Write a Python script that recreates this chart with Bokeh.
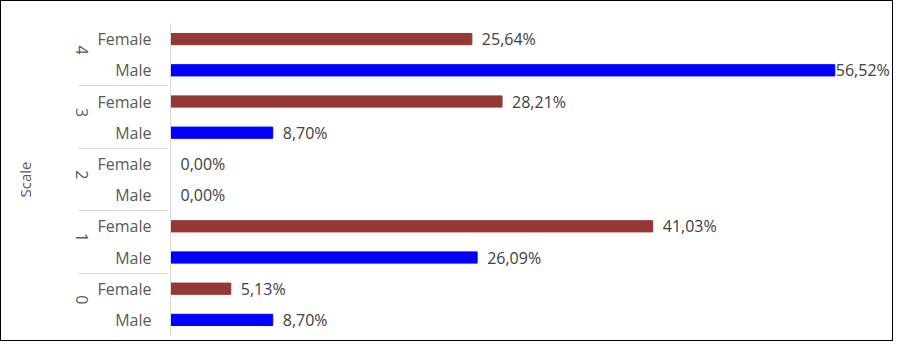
import math
from bokeh.plotting import figure
from bokeh.models import FactorRange, ColumnDataSource, Range1d, BoxAnnotation
from bokeh.core.properties import value
from bokeh.embed import file_html
from bokeh.resources import INLINE

groups = ["0", "1", "2", "3", "4"]
subs = ["Male", "Female"]
male = [8.70, 26.09, 0.00, 8.70, 56.52]
female = [5.13, 41.03, 0.00, 28.21, 25.64]
colors = {"Male": "#0000FF", "Female": "#953735"}

factors = [(g, s) for g in groups for s in subs]
vals = []
cols = []
for i, g in enumerate(groups):
    vals.append(male[i]); cols.append(colors["Male"])
    vals.append(female[i]); cols.append(colors["Female"])
labels = [f"{v:.2f}".replace(".", ",") + "%" for v in vals]
vmax = max(vals)
offsets = [1 if v == vmax else 10 for v in vals]

src = ColumnDataSource(dict(y=factors, v=vals, c=cols, lab=labels, off=offsets))

FONT = "Open Sans"
p = figure(width=893, height=341, output_backend="svg", toolbar_location=None,
           y_range=FactorRange(*factors, factor_padding=0, group_padding=0, range_padding=0),
           x_range=Range1d(0, 61.6),
           min_border_left=169, min_border_right=0, min_border_top=22, min_border_bottom=7)
p.styles = {"border": "1px solid #000", "box-sizing": "border-box"}
p.outline_line_color = None
p.xgrid.visible = False
p.ygrid.visible = False
p.xaxis.visible = False

p.hbar(y="y", left=0, right="v", height=0.36, color="c", source=src)
p.text(x="v", y="y", text="lab", x_offset="off", text_baseline="middle", text_align="left",
       text_font=value(FONT), text_font_size="16px", text_color="#404040", source=src)

# outer top / bottom rules of the category table
for t in (21, 331):
    p.add_layout(BoxAnnotation(left=10, right=169, top=t, bottom=t + 1,
                               left_units="canvas", right_units="canvas",
                               top_units="canvas", bottom_units="canvas",
                               fill_color="#d9d9d9", fill_alpha=1, line_color=None))

ax = p.yaxis[0]
ax.axis_line_color = "#d9d9d9"
ax.axis_line_width = 1
ax.major_tick_line_color = None
ax.major_label_text_font = FONT
ax.major_label_text_font_size = "16px"
ax.major_label_text_color = "#595959"
ax.major_label_standoff = 13
ax.group_text_font = FONT
ax.group_text_font_size = "16px"
ax.group_text_font_style = "normal"
ax.group_text_color = "#595959"
ax.group_label_orientation = -math.pi / 2
ax.separator_line_color = "#d9d9d9"
ax.separator_line_width = 1
ax.axis_label = "Scale"
ax.axis_label_standoff = 32
ax.axis_label_text_font = FONT
ax.axis_label_text_font_size = "15px"
ax.axis_label_text_font_style = "normal"
ax.axis_label_text_color = "#595959"

open("out.html", "w").write(file_html(p, INLINE))
